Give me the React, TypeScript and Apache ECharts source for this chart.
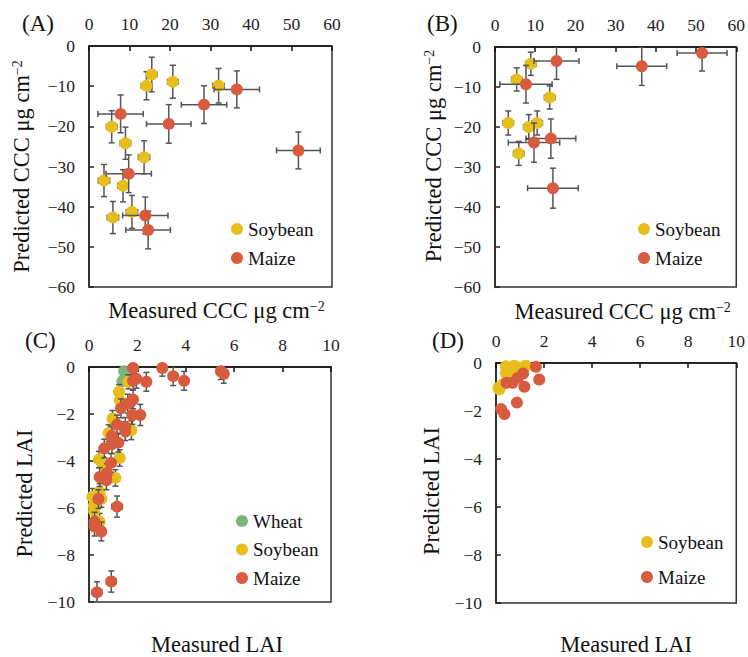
import React, { useEffect, useRef } from "react";
import * as echarts from "echarts";

// [measured, predicted, xErr, yErr]
const aSoybean = [
  [15.5, -7.1, 1.3, 4.3], [14.2, -9.9, 1.3, 3.5], [20.7, -8.9, 1.3, 4.1], [32.0, -9.9, 1.4, 4.3],
  [5.6, -20.1, 1.3, 4.0], [9.0, -24.2, 1.3, 4.0], [13.6, -27.7, 1.4, 4.1], [3.7, -33.5, 1.4, 4.0],
  [8.4, -34.8, 1.3, 4.0], [5.9, -42.7, 1.4, 4.0], [10.6, -41.3, 1.4, 4.1],
];
const aMaize = [
  [7.8, -16.9, 5.6, 4.7], [19.7, -19.4, 5.5, 4.8], [28.4, -14.6, 5.6, 4.7], [36.5, -10.8, 5.6, 4.6],
  [51.7, -26.0, 5.4, 4.6], [9.8, -31.8, 5.6, 4.7], [13.9, -42.2, 5.6, 4.6], [14.6, -45.8, 5.5, 4.7],
];
const bSoybean = [
  [8.9, -4.2, 1.3, 2.9], [5.4, -8.1, 1.3, 2.9], [13.6, -12.6, 1.3, 2.9], [3.3, -19.0, 1.3, 3.0],
  [8.4, -20.0, 1.3, 3.1], [10.5, -19.0, 1.3, 3.0], [5.9, -26.6, 1.3, 3.0],
];
const bMaize = [
  [15.3, -3.5, 5.6, 4.6], [7.7, -9.3, 6.5, 4.7], [36.5, -4.8, 6.2, 4.8], [51.5, -1.5, 6.2, 4.5],
  [13.9, -22.9, 6.2, 4.9], [9.7, -23.9, 6.4, 4.9], [14.4, -35.3, 6.3, 5.0],
];
const cWheat = [
  [1.45, -0.18, 0.1, 0.1], [1.68, -0.2, 0.1, 0.1], [1.38, -0.6, 0.1, 0.1],
];
const cSoybean = [
  [1.63, -0.63, 0.12, 0.3], [1.24, -1.05, 0.12, 0.3], [1.27, -1.42, 0.12, 0.3], [0.97, -2.2, 0.12, 0.35],
  [0.81, -2.81, 0.12, 0.35], [1.75, -2.69, 0.12, 0.4], [0.41, -3.94, 0.12, 0.35], [0.58, -4.17, 0.12, 0.35],
  [1.27, -3.87, 0.12, 0.35], [1.09, -4.72, 0.12, 0.35], [0.44, -5.31, 0.12, 0.35], [0.14, -5.52, 0.12, 0.35],
  [0.51, -5.62, 0.12, 0.35], [0.21, -6.13, 0.12, 0.35], [0.44, -6.58, 0.12, 0.35], [0.2, -5.9, 0.12, 0.35],
];
const cMaize = [
  [1.82, -0.04, 0.15, 0.3], [3.03, -0.04, 0.15, 0.35], [3.48, -0.39, 0.15, 0.4], [3.93, -0.59, 0.15, 0.4],
  [2.37, -0.63, 0.15, 0.4], [5.45, -0.18, 0.15, 0.35], [5.57, -0.29, 0.15, 0.4], [1.82, -0.59, 0.15, 0.4],
  [1.96, -0.5, 0.15, 0.4], [1.82, -1.38, 0.15, 0.4], [1.6, -1.56, 0.15, 0.4], [1.32, -1.76, 0.15, 0.4],
  [1.79, -2.04, 0.15, 0.4], [2.12, -2.04, 0.15, 0.45], [1.16, -2.45, 0.15, 0.4], [1.5, -2.55, 0.15, 0.4],
  [1.5, -2.73, 0.15, 0.4], [0.95, -2.93, 0.15, 0.4], [0.95, -3.28, 0.15, 0.4], [1.21, -3.22, 0.15, 0.4],
  [0.63, -3.47, 0.15, 0.4], [0.91, -4.08, 0.15, 0.4], [0.74, -4.52, 0.15, 0.4], [0.44, -4.68, 0.15, 0.4],
  [0.72, -4.82, 0.15, 0.4], [0.39, -5.62, 0.15, 0.4], [1.16, -5.94, 0.22, 0.45], [0.23, -6.58, 0.15, 0.4],
  [0.23, -6.79, 0.15, 0.4], [0.51, -7.0, 0.15, 0.4], [0.92, -9.13, 0.2, 0.45], [0.33, -9.59, 0.2, 0.45],
];
const dSoybean = [
  [0.41, -0.14, 0.05, 0.1], [0.76, -0.11, 0.05, 0.1], [1.24, -0.11, 0.05, 0.1], [0.62, -0.34, 0.05, 0.1],
  [0.48, -0.62, 0.05, 0.1], [0.28, -0.89, 0.05, 0.1], [0.14, -1.1, 0.05, 0.1], [0.97, -0.2, 0.05, 0.1],
  [0.1, -1.03, 0.05, 0.1], [0.41, -0.41, 0.05, 0.1],
];
const dMaize = [
  [1.66, -0.16, 0.06, 0.15], [1.8, -0.69, 0.06, 0.15], [1.13, -0.44, 0.06, 0.15], [0.9, -0.62, 0.06, 0.15],
  [0.69, -0.82, 0.06, 0.15], [0.44, -0.82, 0.06, 0.15], [1.18, -0.99, 0.06, 0.15], [0.87, -1.65, 0.06, 0.15],
  [0.21, -1.92, 0.06, 0.15], [0.35, -2.13, 0.06, 0.15],
];

const panelTitles = ["(A)", "(B)", "(C)", "(D)"];
const cccName = "Measured CCC μg cm{sup|−2}";
const cccYName = "Predicted CCC μg cm{sup|−2}";
const laiXName = "Measured LAI";
const laiYName = "Predicted LAI";

const FONT = "'Liberation Serif', 'Times New Roman', serif";
const SOY = "#E7BF1D";
const MAIZE = "#D75B3C";
const WHEAT = "#7DB67C";
const ERR = "#555555";

function errRender(params: any, api: any) {
  const x = api.value(0), y = api.value(1), xe = api.value(2), ye = api.value(3);
  const c = api.coord([x, y]);
  const l = api.coord([x - xe, y]);
  const r = api.coord([x + xe, y]);
  const t = api.coord([x, y + ye]);
  const b = api.coord([x, y - ye]);
  const cap = 3;
  const style = { stroke: ERR, lineWidth: 1.5, fill: null };
  return {
    type: "group",
    children: [
      { type: "line", shape: { x1: l[0], y1: c[1], x2: r[0], y2: c[1] }, style },
      { type: "line", shape: { x1: l[0], y1: c[1] - cap, x2: l[0], y2: c[1] + cap }, style },
      { type: "line", shape: { x1: r[0], y1: c[1] - cap, x2: r[0], y2: c[1] + cap }, style },
      { type: "line", shape: { x1: c[0], y1: t[1], x2: c[0], y2: b[1] }, style },
      { type: "line", shape: { x1: c[0] - cap, y1: t[1], x2: c[0] + cap, y2: t[1] }, style },
      { type: "line", shape: { x1: c[0] - cap, y1: b[1], x2: c[0] + cap, y2: b[1] }, style },
    ],
  };
}

const grids = [
  { left: 89, top: 46, width: 243, height: 241 },
  { left: 495, top: 47, width: 242, height: 240 },
  { left: 89, top: 367, width: 242, height: 242 },
  { left: 496, top: 363, width: 241, height: 243 },
];

const rich = {
  sup: { fontSize: 14, verticalAlign: "top", lineHeight: 12, fontFamily: FONT, color: "#111" },
};

export default function App() {
  const ref = useRef<HTMLDivElement>(null);
  useEffect(() => {
    if (!ref.current) return;
    const chart = echarts.init(ref.current, undefined, { renderer: "svg" });
    const xMax = [60, 60, 10, 10];
    const xInt = [10, 10, 2, 2];
    const yMin = [-60, -60, -10, -10];
    const yInt = [10, 10, 2, 2];
    const xNames = [cccName, cccName, laiXName, laiXName];
    const yNames = [cccYName, cccYName, laiYName, laiYName];
    const xNameGap = [12, 13, 31, 30];
    const xNamePad = [
      [0, 0, 0, 12],
      [0, 0, 0, 14],
      [0, 0, 0, 14],
      [0, 0, 0, 20],
    ];
    const yNameGap = [56, 50, 53, 53];
    const yNamePad = [
      [0, 0, 0, 0],
      [0, 0, 0, 22],
      [0, 18, 0, 0],
      [0, 16, 0, 0],
    ];

    const xTop = grids.map((_, i) => ({
      gridIndex: i,
      type: "value",
      position: "top",
      min: 0,
      max: xMax[i],
      interval: xInt[i],
      axisLine: { show: true, onZero: false, lineStyle: { color: "#111", width: 1.5 } },
      axisTick: { show: true, inside: true, length: 5, lineStyle: { color: "#111", width: 1.5 } },
      axisLabel: { fontSize: 17.5, color: "#222", fontFamily: FONT, margin: 13 },
      splitLine: { show: false },
    }));
    const xBottom = grids.map((_, i) => ({
      gridIndex: i,
      type: "value",
      position: "bottom",
      min: 0,
      max: xMax[i],
      axisLine: { show: false },
      axisTick: { show: false },
      axisLabel: { show: false },
      splitLine: { show: false },
      name: xNames[i],
      nameLocation: "middle",
      nameGap: xNameGap[i],
      nameTextStyle: {
        fontSize: 22.5,
        color: "#111",
        fontFamily: FONT,
        verticalAlign: "top",
        padding: xNamePad[i],
        rich,
      },
    }));
    const yAxes = grids.map((_, i) => ({
      gridIndex: i,
      type: "value",
      min: yMin[i],
      max: 0,
      interval: yInt[i],
      axisLine: { show: true, onZero: false, lineStyle: { color: "#222", width: 1.5 } },
      axisTick: { show: true, inside: true, length: 5, lineStyle: { color: "#222", width: 1.5 } },
      axisLabel: {
        fontSize: 17.5,
        color: "#222",
        fontFamily: FONT,
        margin: 14,
        formatter: (v: number) => String(v).replace("-", "−"),
      },
      splitLine: { show: false },
      name: yNames[i],
      nameLocation: "middle",
      nameRotate: 90,
      nameGap: yNameGap[i],
      nameTextStyle: { fontSize: 22.5, color: "#111", fontFamily: FONT, padding: yNamePad[i], rich },
    }));

    const panels: { name: string; color: string; data: number[][] }[][] = [
      [
        { name: "Soybean", color: SOY, data: aSoybean },
        { name: "Maize", color: MAIZE, data: aMaize },
      ],
      [
        { name: "Soybean", color: SOY, data: bSoybean },
        { name: "Maize", color: MAIZE, data: bMaize },
      ],
      [
        { name: "Wheat", color: WHEAT, data: cWheat },
        { name: "Soybean", color: SOY, data: cSoybean },
        { name: "Maize", color: MAIZE, data: cMaize },
      ],
      [
        { name: "Soybean", color: SOY, data: dSoybean },
        { name: "Maize", color: MAIZE, data: dMaize },
      ],
    ];

    const series: any[] = [];
    let z = 2;
    panels.forEach((ps, i) => {
      ps.forEach((p) => {
        series.push({
          type: "custom",
          name: p.name + " error",
          xAxisIndex: i,
          yAxisIndex: i,
          renderItem: errRender,
          data: p.data,
          encode: { x: 0, y: 1 },
          clip: true,
          z: z++,
          silent: true,
        });
        series.push({
          type: "scatter",
          name: p.name,
          xAxisIndex: i,
          yAxisIndex: i,
          data: p.data.map((d) => [d[0], d[1]]),
          symbolSize: 12,
          itemStyle: { color: p.color, opacity: 1 },
          clip: false,
          z: z++,
        });
      });
    });

    const legendBase = {
      orient: "vertical",
      icon: "circle",
      itemWidth: 12,
      itemHeight: 12,
      padding: 0,
      selectedMode: false,
      textStyle: { fontSize: 19, color: "#111", fontFamily: FONT, lineHeight: 22 },
    };

    chart.setOption({
      animation: false,
      backgroundColor: "#fff",
      title: panelTitles.map((t, i) => ({
        text: t,
        left: [22, 427, 25, 432][i],
        top: [12, 12, 329, 329][i],
        padding: 0,
        textStyle: { fontSize: 23, fontWeight: "normal", color: "#111", fontFamily: FONT },
      })),
      grid: grids.map((g) => ({
        ...g,
        show: true,
        borderColor: "#333",
        borderWidth: 1.5,
        backgroundColor: "transparent",
      })),
      xAxis: [...xTop, ...xBottom],
      yAxis: yAxes,
      legend: [
        { ...legendBase, data: ["Soybean", "Maize"], left: 231, top: 218, itemGap: 7 },
        { ...legendBase, data: ["Soybean", "Maize"], left: 638, top: 218, itemGap: 7 },
        { ...legendBase, data: ["Wheat", "Soybean", "Maize"], left: 236, top: 510, itemGap: 6.5 },
        { ...legendBase, data: ["Soybean", "Maize"], left: 641, top: 531, itemGap: 13 },
      ],
      series,
    });
    return () => chart.dispose();
  }, []);
  return (
    <div
      ref={ref}
      style={{ position: "absolute", left: 0, top: 0, width: 748, height: 657 }}
    />
  );
}
